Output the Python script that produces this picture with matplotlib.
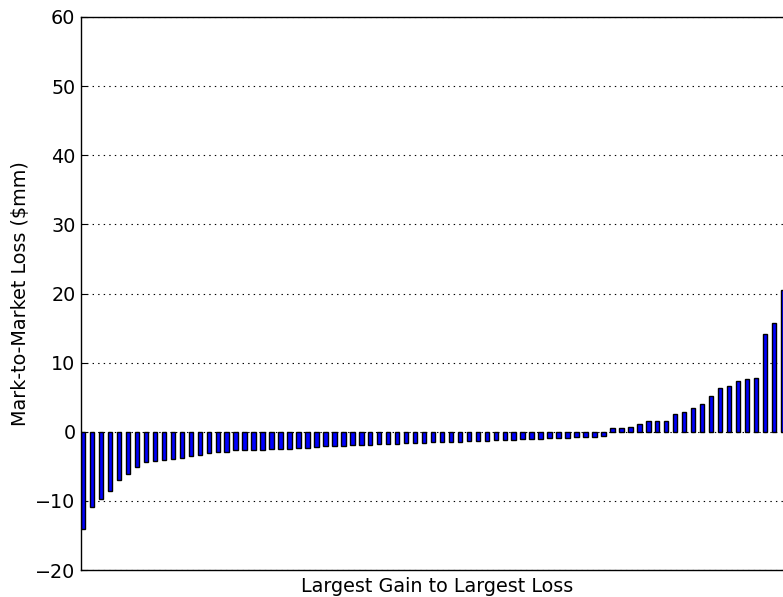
import matplotlib
matplotlib.use("Agg")
import matplotlib.pyplot as plt
import numpy as np

values = [
    -14.0, -10.9, -9.7, -8.5, -7.0, -6.1, -5.15, -4.4, -4.2, -4.1,
    -3.9, -3.75, -3.5, -3.3, -3.1, -3.0, -2.9, -2.7, -2.65, -2.6,
    -2.6, -2.55, -2.5, -2.45, -2.4, -2.3, -2.2, -2.1, -2.05, -2.0,
    -1.95, -1.9, -1.85, -1.8, -1.75, -1.7, -1.65, -1.6, -1.6, -1.55,
    -1.5, -1.5, -1.45, -1.4, -1.35, -1.3, -1.25, -1.2, -1.15, -1.1,
    -1.05, -1.0, -0.95, -0.9, -0.85, -0.8, -0.75, -0.7, -0.6,
    0.5, 0.6, 0.75, 1.1, 1.5, 1.6, 1.6, 2.6, 2.9, 3.5,
    4.05, 5.2, 6.3, 6.6, 7.3, 7.7, 7.8, 14.1, 15.7, 20.5,
]
yticks = [-20, -10, 0, 10, 20, 30, 40, 50, 60]
xlabel = "Largest Gain to Largest Loss"
ylabel = "Mark-to-Market Loss ($mm)"

W, H = 783, 597
fig = plt.figure(figsize=(W / 100, H / 100), dpi=100)
left, right, top, bottom = 81, 794, 17, 570
ax = fig.add_axes([left / W, 1 - bottom / H, (right - left) / W, (bottom - top) / H])

x = np.arange(len(values))
ax.bar(x, values, width=0.5, align="edge", color="#0000ff",
       edgecolor="black", linewidth=1.0, zorder=2)
ax.set_xlim(0, 79.5)
ax.set_ylim(-20, 60)
ax.set_yticks(yticks)
ax.set_xticks([])
ax.yaxis.grid(True, linestyle=(0, (1.25, 3.75)), color="black", linewidth=0.8, zorder=0)
ax.tick_params(axis="y", direction="in", length=4, labelsize=13.75, right=False, pad=4)
for sp in ax.spines.values():
    sp.set_linewidth(1.0)
ax.set_xlabel(xlabel, fontsize=13.75, labelpad=5)
ax.set_ylabel(ylabel, fontsize=13.75, labelpad=4)

fig.savefig("out.png", dpi=100)
